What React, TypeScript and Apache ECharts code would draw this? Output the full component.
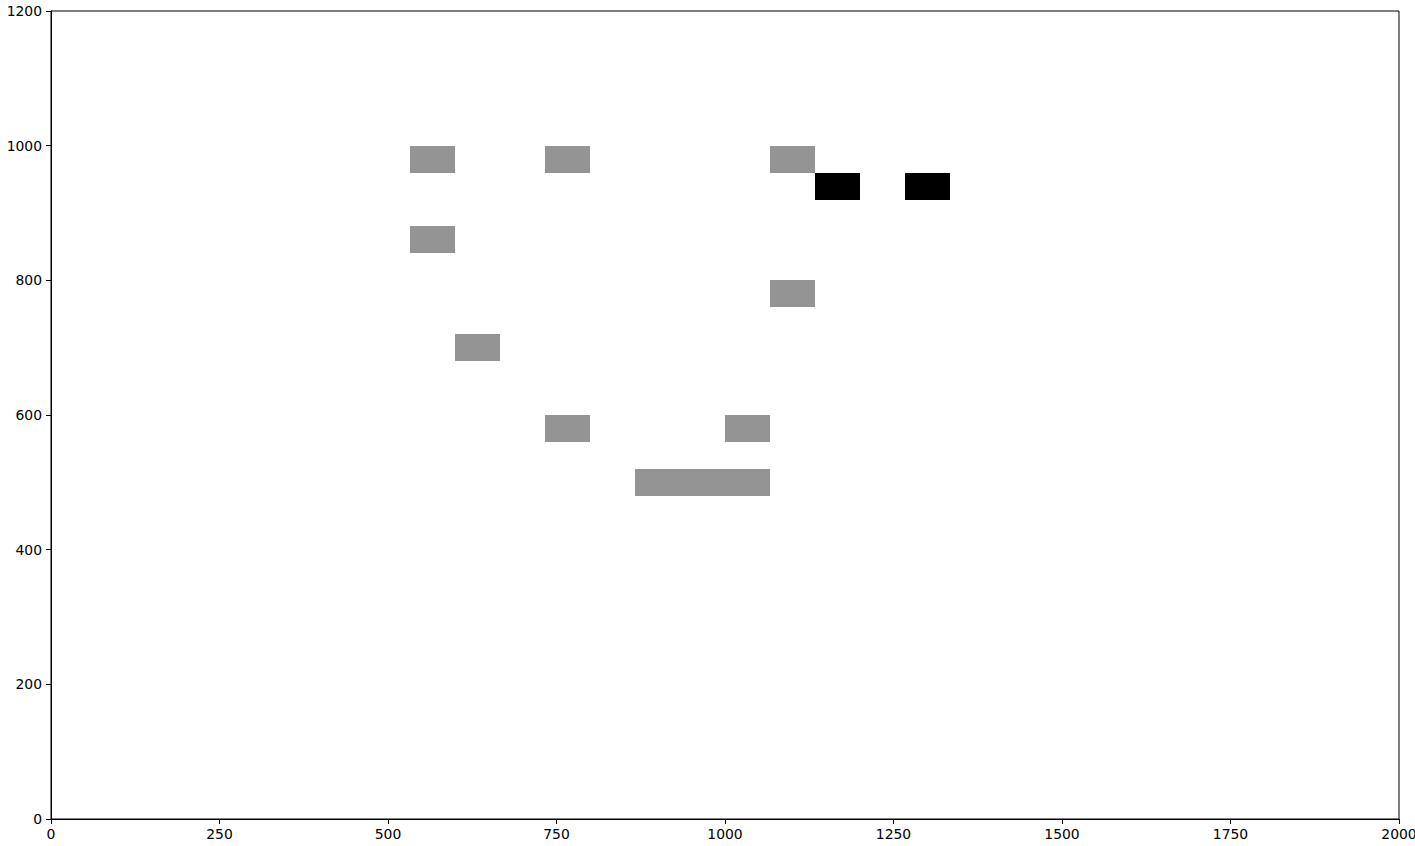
import React, { useEffect, useRef } from "react";
import * as echarts from "echarts";

// Grid of 30 x 30 cells over x 0..2000, y 0..1200
const X_MAX = 2000;
const Y_MAX = 1200;
const N_COLS = 30;
const N_ROWS = 30;

const xTicks = [0, 250, 500, 750, 1000, 1250, 1500, 1750, 2000];
const yTicks = [0, 200, 400, 600, 800, 1000, 1200];

// [column, row] of filled cells
const grayCells: number[][] = [
  [8, 24],
  [11, 24],
  [16, 24],
  [8, 21],
  [16, 19],
  [9, 17],
  [11, 14],
  [15, 14],
  [13, 12],
  [14, 12],
  [15, 12],
];
const blackCells: number[][] = [
  [17, 23],
  [19, 23],
];

const CELL_W = X_MAX / N_COLS;
const CELL_H = Y_MAX / N_ROWS;

function cellSeries(cells: number[][], color: string) {
  return {
    type: "custom",
    data: cells,
    clip: true,
    renderItem: (params: any, api: any) => {
      const c = api.value(0);
      const r = api.value(1);
      const x0 = c * CELL_W;
      const y1 = (r + 1) * CELL_H;
      const tl = api.coord([x0, y1]);
      const br = api.coord([x0 + CELL_W, r * CELL_H]);
      const x = Math.round(tl[0]);
      const y = Math.round(tl[1]);
      return {
        type: "rect",
        shape: { x, y, width: Math.round(br[0]) - x, height: Math.round(br[1]) - y },
        style: { fill: color },
      };
    },
  };
}

export default function App() {
  const ref = useRef<HTMLDivElement>(null);
  useEffect(() => {
    if (!ref.current) return;
    const chart = echarts.init(ref.current, null, { renderer: "svg" });
    const axisCommon = {
      axisLine: { show: true, lineStyle: { color: "#000", width: 1 } },
      axisTick: { show: true, inside: false, length: 5, lineStyle: { color: "#000", width: 1 } },
      axisLabel: {
        color: "#000",
        fontSize: 13.9,
        fontFamily: "DejaVu Sans",
        formatter: (v: number) => String(v),
      },
      splitLine: { show: false },
    };
    chart.setOption({
      animation: false,
      backgroundColor: "#fff",
      grid: {
        left: 51,
        right: 16,
        top: 11,
        bottom: 27,
        outerBoundsMode: "none",
        containLabel: false,
        show: true,
        borderColor: "#000",
        borderWidth: 1,
        backgroundColor: "transparent",
      },
      xAxis: {
        type: "value",
        min: xTicks[0],
        max: xTicks[xTicks.length - 1],
        interval: 250,
        ...axisCommon,
        axisLabel: { ...axisCommon.axisLabel, margin: 8 },
      },
      yAxis: {
        type: "value",
        min: yTicks[0],
        max: yTicks[yTicks.length - 1],
        interval: 200,
        ...axisCommon,
        axisLabel: { ...axisCommon.axisLabel, margin: 9 },
      },
      series: [cellSeries(grayCells, "#949494"), cellSeries(blackCells, "#000000")],
    });
    return () => chart.dispose();
  }, []);
  return (
    <div
      ref={ref}
      style={{ position: "fixed", left: 0, top: 0, width: 1415, height: 846, background: "#fff" }}
    />
  );
}
